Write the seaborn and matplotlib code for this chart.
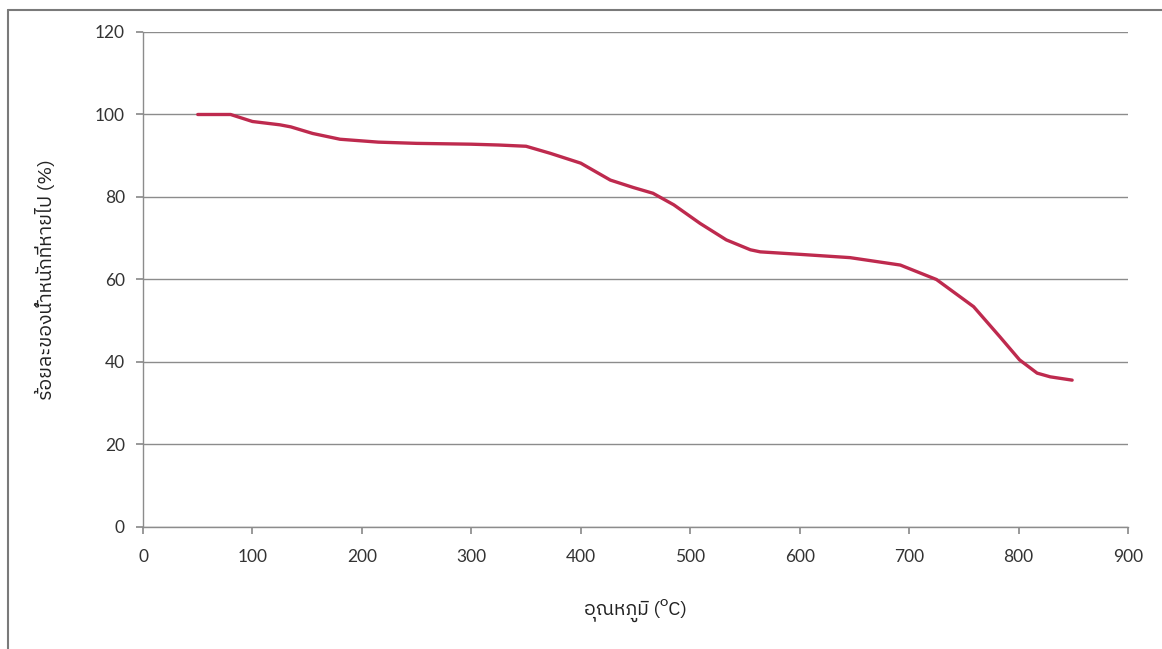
import matplotlib
matplotlib.use("Agg")
import matplotlib.pyplot as plt
from matplotlib import font_manager
from matplotlib.lines import Line2D
import seaborn as sns
import pandas as pd

# temperature (C) and remaining weight (%)
temperature = [50, 80, 100, 125, 135, 155, 180, 215, 250, 300, 325, 350, 372, 400,
               427, 448, 466, 485, 509, 533, 555, 564, 600, 646, 692, 725, 759, 783,
               801, 817, 829, 849]
weight = [100, 100, 98.3, 97.5, 97.0, 95.4, 94.0, 93.3, 93.0, 92.8, 92.6, 92.3, 90.6,
          88.2, 84.1, 82.3, 80.9, 78.1, 73.6, 69.6, 67.2, 66.7, 66.1, 65.3, 63.5, 60.0,
          53.4, 46.1, 40.5, 37.3, 36.4, 35.6]

x_ticks = [0, 100, 200, 300, 400, 500, 600, 700, 800, 900]
y_ticks = [0, 20, 40, 60, 80, 100, 120]

x_label = "อุณหภูมิ (ᴼC)"
y_label = "ร้อยละของน้ำหนักที่หายไป (%)"


def find_thai_font():
    try:
        from fontTools.ttLib import TTFont
    except ImportError:
        return None
    found = []
    for f in font_manager.fontManager.ttflist:
        try:
            cmap = TTFont(f.fname, fontNumber=0, lazy=True).getBestCmap()
        except Exception:
            continue
        if cmap and ord("ร") in cmap and ord("ู") in cmap:
            found.append(f.name)
    for name in found:
        if "Sans" in name:
            return name
    return found[0] if found else None


sns.set_theme(style="white")
thai = find_thai_font()
families = ([thai] if thai else []) + ["Lato", "DejaVu Sans"]
plt.rcParams["font.family"] = families

df = pd.DataFrame({"temp": temperature, "weight": weight})

fig = plt.figure(figsize=(11.62, 6.49), dpi=100)
ax = fig.add_axes([0.1231, 0.188, 0.8476, 0.7627])

sns.lineplot(data=df, x="temp", y="weight", ax=ax, color="#BE2A4E", linewidth=2.4)

ax.set_xlim(0, 900)
ax.set_ylim(0, 120)
ax.set_xticks(x_ticks)
ax.set_yticks(y_ticks)
ax.yaxis.grid(True, color="#8C8C8C", linewidth=1)
ax.xaxis.grid(False)
for side in ["top", "right"]:
    ax.spines[side].set_visible(False)
for side in ["left", "bottom"]:
    ax.spines[side].set_color("#8C8C8C")
    ax.spines[side].set_linewidth(1)
ax.tick_params(axis="both", labelsize=12.5, colors="#8C8C8C", labelcolor="#333333",
               length=5, direction="out", left=True, bottom=True)
ax.tick_params(axis="x", pad=11)
ax.tick_params(axis="y", pad=8)
for lab in ax.get_xticklabels() + ax.get_yticklabels():
    lab.set_family(["Lato", "DejaVu Sans"])

ax.set_xlabel(x_label, fontsize=14, color="#222222", labelpad=24)
ax.set_ylabel(y_label, fontsize=14, color="#222222", labelpad=28)

# outer chart frame (left and top edges visible in the reference)
fig.add_artist(Line2D([8 / 1162, 8 / 1162], [0, 1 - 10 / 649], transform=fig.transFigure,
                      color="#7A7A7A", linewidth=1.5))
fig.add_artist(Line2D([8 / 1162, 1], [1 - 10 / 649, 1 - 10 / 649], transform=fig.transFigure,
                      color="#7A7A7A", linewidth=1.5))

fig.savefig("out.png", dpi=100)
